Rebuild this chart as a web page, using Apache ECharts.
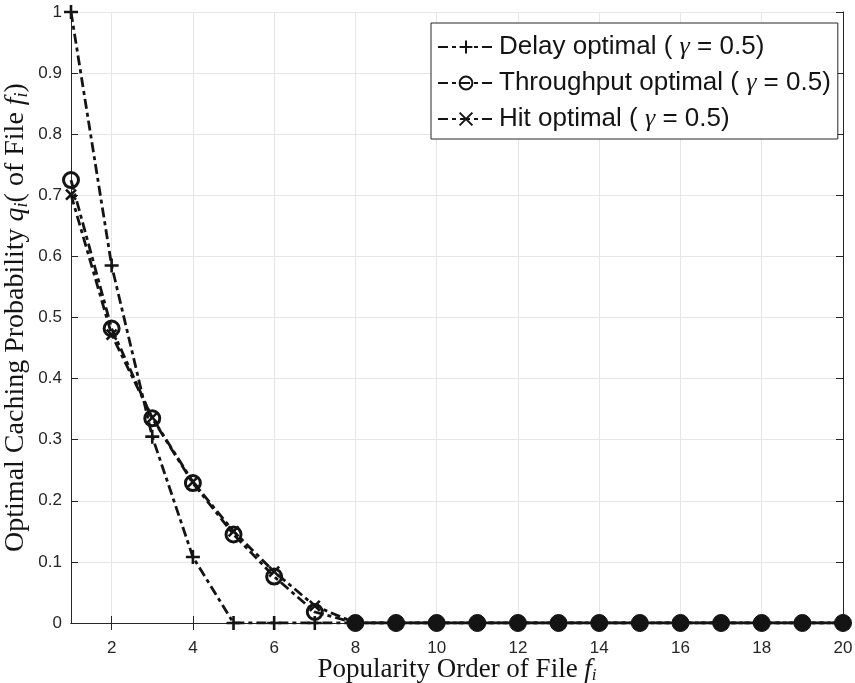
<!DOCTYPE html>
<html>
<head>
<meta charset="utf-8">
<script src="https://cdn.jsdelivr.net/npm/echarts@6/dist/echarts.min.js"></script>
<style>html,body{margin:0;padding:0;background:#fff}#c{width:855px;height:683px}</style>
</head>
<body>
<div id="c"></div>
<script>
// ---- data ----
var fileOrder = [1,2,3,4,5,6,7,8,9,10,11,12,13,14,15,16,17,18,19,20];
var delayOptimal = [1.000,0.585,0.305,0.108,0,0,0,0,0,0,0,0,0,0,0,0,0,0,0,0];
var throughputOptimal = [0.725,0.482,0.335,0.229,0.145,0.076,0.018,0,0,0,0,0,0,0,0,0,0,0,0,0];
var hitOptimal = [0.701,0.472,0.336,0.231,0.150,0.084,0.028,0,0,0,0,0,0,0,0,0,0,0,0,0];
var xTicks = [2,4,6,8,10,12,14,16,18,20];
var seriesNames = ['Delay optimal ( γ = 0.5)','Throughput optimal ( γ = 0.5)','Hit optimal ( γ = 0.5)'];

function pairs(vals){ return vals.map(function(v,i){ return [fileOrder[i], v]; }); }

var chart = echarts.init(document.getElementById('c'));
var axisColor = '#262626';
var ink = '#141414';
var tickFont = 'Liberation Sans, Arial, Helvetica, sans-serif';
var serif = 'Liberation Serif, Times New Roman, serif';
var dash = [10,4,4,4];
var lw = 2.8;

var plusPath = 'path://M5,0 L5,10 M0,5 L10,5';
var crossPath = 'path://M0,0 L10,10 M10,0 L0,10';

// markers where all three curves coincide at zero look solid in the reference
var tpData = pairs(throughputOptimal).map(function(p){
  if (p[0] >= 8) return {value:p, symbolSize:17, itemStyle:{color:ink, borderColor:ink, borderWidth:1}};
  return {value:p};
});

function nameRich(size){
  return {
    i: {fontFamily: serif, fontStyle: 'italic', fontSize: size, color: ink},
    s: {fontFamily: serif, fontStyle: 'italic', fontSize: Math.round(size*0.63), color: ink, padding: [12,0,0,0]}
  };
}

var option = {
  animation: false,
  backgroundColor: '#fff',
  grid: {left: 71, right: 12, top: 12, bottom: 60, containLabel: false, outerBoundsMode: 'none'},
  legend: {
    show: true,
    orient: 'vertical',
    left: 431, top: 23,
    padding: [9, 7, 5, 6],
    itemGap: 6,
    itemWidth: 56, itemHeight: 16,
    backgroundColor: '#fff',
    borderColor: axisColor, borderWidth: 1, borderRadius: 0,
    data: seriesNames,
    formatter: function(name){
      return name.replace('γ', '{g|γ}');
    },
    textStyle: {
      fontFamily: tickFont, fontSize: 26, lineHeight: 30, color: ink,
      rich: {g: {fontFamily: serif, fontStyle: 'italic', fontSize: 26, lineHeight: 30, color: ink}}
    }
  },
  xAxis: [{
    type: 'value', min: 1, max: 20, position: 'bottom',
    name: 'Popularity Order of File {i|f}{s|i}',
    nameLocation: 'middle', nameGap: 32, nameMoveOverlap: false,
    nameTextStyle: {fontFamily: serif, fontSize: 27, color: ink, verticalAlign: 'top', rich: nameRich(27)},
    axisLine: {show: true, lineStyle: {color: axisColor, width: 1}},
    axisTick: {show: true, inside: true, length: 7, customValues: xTicks, lineStyle: {color: axisColor}},
    axisLabel: {customValues: xTicks, fontFamily: tickFont, fontSize: 17, color: axisColor, margin: 17},
    splitLine: {show: true, lineStyle: {color: '#e6e6e6', width: 1}}
  }, {
    type: 'value', min: 1, max: 20, position: 'top',
    axisLine: {show: true, lineStyle: {color: axisColor, width: 1}},
    axisTick: {show: true, inside: true, length: 7, customValues: xTicks, lineStyle: {color: axisColor}},
    axisLabel: {show: false},
    splitLine: {show: false}
  }],
  yAxis: [{
    type: 'value', min: 0, max: 1, interval: 0.1, position: 'left',
    name: 'Optimal Caching Probability {i|q}{s|i}( of File {i|f}{s|i})',
    nameLocation: 'middle', nameGap: 40, nameMoveOverlap: false,
    nameTextStyle: {fontFamily: serif, fontSize: 28, color: ink, rich: nameRich(28)},
    axisLine: {show: true, lineStyle: {color: axisColor, width: 1}},
    axisTick: {show: true, inside: true, length: 7, lineStyle: {color: axisColor}},
    axisLabel: {fontFamily: tickFont, fontSize: 17, color: axisColor, margin: 9},
    splitLine: {show: true, lineStyle: {color: '#e6e6e6', width: 1}}
  }, {
    type: 'value', min: 0, max: 1, interval: 0.1, position: 'right',
    axisLine: {show: true, lineStyle: {color: axisColor, width: 1}},
    axisTick: {show: true, inside: true, length: 7, lineStyle: {color: axisColor}},
    axisLabel: {show: false},
    splitLine: {show: false}
  }],
  series: [{
    name: seriesNames[0], type: 'line', xAxisIndex: 0, yAxisIndex: 0,
    data: pairs(delayOptimal),
    symbol: plusPath, symbolSize: 14, showAllSymbol: true,
    lineStyle: {color: ink, width: lw, type: dash},
    itemStyle: {color: ink, borderColor: ink, borderWidth: 2.6},
    z: 3
  }, {
    name: seriesNames[1], type: 'line', xAxisIndex: 0, yAxisIndex: 0,
    data: tpData,
    symbol: 'circle', symbolSize: 15, showAllSymbol: true,
    lineStyle: {color: ink, width: lw, type: dash},
    itemStyle: {color: 'rgba(255,255,255,0)', borderColor: ink, borderWidth: 3},
    z: 4
  }, {
    name: seriesNames[2], type: 'line', xAxisIndex: 0, yAxisIndex: 0,
    data: pairs(hitOptimal),
    symbol: crossPath, symbolSize: 10, showAllSymbol: true,
    lineStyle: {color: ink, width: lw, type: dash},
    itemStyle: {color: ink, borderColor: ink, borderWidth: 2.6},
    z: 5
  }]
};
chart.setOption(option);
</script>
</body>
</html>
